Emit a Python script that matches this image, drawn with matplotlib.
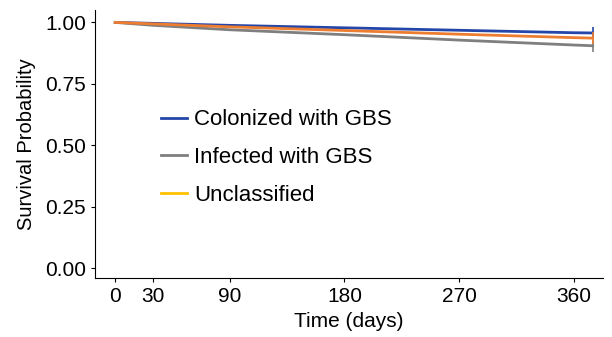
import matplotlib.pyplot as plt
from matplotlib.lines import Line2D

plt.rcParams['font.family'] = ['Liberation Sans', 'DejaVu Sans']

# Survival curves, values
time_col = [0, 30, 90, 180, 270, 360, 375]
surv_col = [1.00, 0.996, 0.988, 0.978, 0.968, 0.958, 0.957]

time_inf = [0, 30, 90, 180, 270, 360, 375]
surv_inf = [1.00, 0.988, 0.970, 0.950, 0.928, 0.908, 0.905]

time_unc = [0, 30, 90, 180, 270, 360, 375]
surv_unc = [1.00, 0.994, 0.982, 0.967, 0.952, 0.938, 0.936]

labels = ['Colonized with GBS', 'Infected with GBS', 'Unclassified']
line_colors = ['#2446A8', '#7F7F7F', '#ED7D31']
legend_colors = ['#2446A8', '#7F7F7F', '#FFC000']
xticks = [0, 30, 90, 180, 270, 360]
yticks = [0.00, 0.25, 0.50, 0.75, 1.00]

fig, ax = plt.subplots(figsize=(6.12, 3.37), dpi=100)
fig.subplots_adjust(left=0.155, right=0.985, bottom=0.175, top=0.97)

for t, s, c in [(time_col, surv_col, line_colors[0]),
                (time_inf, surv_inf, line_colors[1]),
                (time_unc, surv_unc, line_colors[2])]:
    ax.plot(t, s, color=c, lw=2)
    # censor mark at the end
    ax.plot(t[-1], s[-1], marker='|', ms=9, mew=1.2, color=c)

ax.set_xlim(-16, 383)
ax.set_ylim(-0.04, 1.05)
ax.set_xticks(xticks)
ax.set_yticks(yticks)
ax.set_yticklabels(['%.2f' % v for v in yticks])
ax.tick_params(labelsize=15, length=3, color='black')
ax.set_xlabel('Time (days)', fontsize=15)
ax.set_ylabel('Survival Probability', fontsize=14.5, labelpad=6)
ax.spines['top'].set_visible(False)
ax.spines['right'].set_visible(False)

handles = [Line2D([], [], color=c, lw=2) for c in legend_colors]
ax.legend(handles, labels, loc='center left', bbox_to_anchor=(0.09, 0.45),
          frameon=False, fontsize=16, handlelength=1.2, handletextpad=0.3,
          labelspacing=0.75)

plt.savefig('out.png')
